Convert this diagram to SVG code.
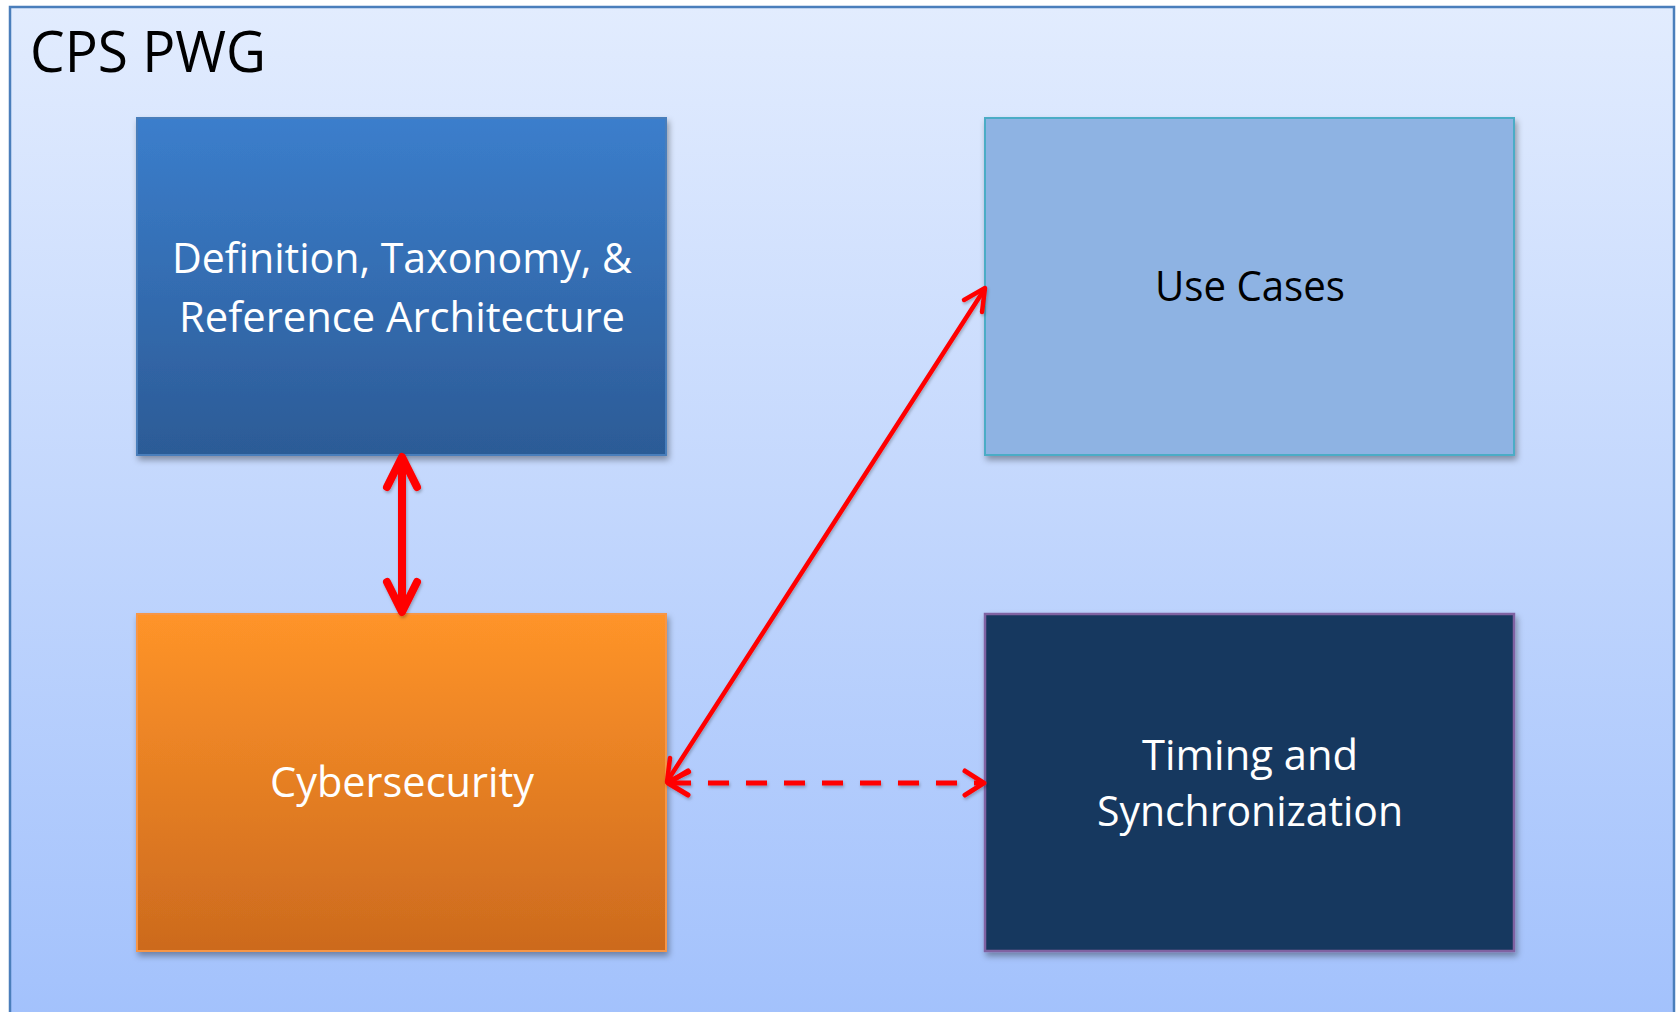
<svg xmlns="http://www.w3.org/2000/svg" width="1679" height="1012" viewBox="0 0 1679 1012">
<defs>
<linearGradient id="bg" x1="0" y1="0" x2="0" y2="1">
<stop offset="0" stop-color="#e2ecfe"/>
<stop offset="1" stop-color="#a2c1fc"/>
</linearGradient>
<linearGradient id="g1" x1="0" y1="0" x2="0" y2="1">
<stop offset="0" stop-color="#3b7ecc"/>
<stop offset="1" stop-color="#2c5b96"/>
</linearGradient>
<linearGradient id="g3" x1="0" y1="0" x2="0" y2="1">
<stop offset="0" stop-color="#ff9429"/>
<stop offset="1" stop-color="#cc6a1e"/>
</linearGradient>
<filter id="sh" x="-5%" y="-5%" width="115%" height="115%">
<feDropShadow dx="2" dy="4" stdDeviation="3" flood-color="#000" flood-opacity="0.35"/>
</filter>
<filter id="ash" x="-20%" y="-20%" width="140%" height="140%">
<feDropShadow dx="1" dy="2" stdDeviation="1.5" flood-color="#000" flood-opacity="0.25"/>
</filter>
</defs>
<style>
.lbl{font-family:"Open Sans","Liberation Sans",sans-serif;font-size:42px;text-anchor:middle}
.w{fill:#ffffff}
.k{fill:#000000}
.arr{fill:none;stroke:#ff0000;stroke-linecap:round;stroke-linejoin:round}
</style>
<rect x="0" y="0" width="1679" height="1012" fill="#ffffff"/>
<g id="frame">
<rect x="10" y="7" width="1664" height="1020" fill="url(#bg)" stroke="#4a7ebb" stroke-width="2.5"/>
<text x="30" y="72" font-family="'Open Sans','Liberation Sans',sans-serif" font-size="57" fill="#000" textLength="236" lengthAdjust="spacingAndGlyphs">CPS PWG</text>
</g>
<g id="node-definition">
<rect x="137" y="118" width="529" height="337" fill="url(#g1)" stroke="#4a7ebb" stroke-width="2" filter="url(#sh)"/>
<text class="lbl w" x="402" y="273" textLength="460" lengthAdjust="spacingAndGlyphs">Definition, Taxonomy, &amp;</text>
<text class="lbl w" x="402" y="332" textLength="446" lengthAdjust="spacingAndGlyphs">Reference Architecture</text>
</g>
<g id="node-usecases">
<rect x="985" y="118" width="529" height="337" fill="#8eb3e3" stroke="#4bacc6" stroke-width="2" filter="url(#sh)"/>
<text class="lbl k" x="1250" y="301" textLength="190" lengthAdjust="spacingAndGlyphs">Use Cases</text>
</g>
<g id="node-cyber">
<rect x="137" y="614" width="529" height="337" fill="url(#g3)" stroke="#f79646" stroke-width="2" filter="url(#sh)"/>
<text class="lbl w" x="402" y="797" textLength="264" lengthAdjust="spacingAndGlyphs">Cybersecurity</text>
</g>
<g id="node-timing">
<rect x="985" y="614" width="529" height="337" fill="#17375e" stroke="#8064a2" stroke-width="2.5" filter="url(#sh)"/>
<text class="lbl w" x="1250" y="770" textLength="216" lengthAdjust="spacingAndGlyphs">Timing and</text>
<text class="lbl w" x="1250" y="826" textLength="306" lengthAdjust="spacingAndGlyphs">Synchronization</text>
</g>
<g id="connectors" filter="url(#ash)">
<g class="arr" stroke-width="8">
<line x1="402" y1="460" x2="402" y2="609"/>
<polyline points="387,487 402,457 417,487"/>
<polyline points="387,582 402,612 417,582"/>
</g>
<g class="arr" stroke-width="4.5">
<line x1="668" y1="780" x2="984" y2="290"/>
<polyline points="964,300 985,288 982,312"/>
<polyline points="670,758 667,782 689,772"/>
</g>
<g class="arr" stroke-width="5">
<line x1="670" y1="783" x2="982" y2="783" stroke-dasharray="21 17" stroke-linecap="butt"/>
<polyline points="688,771 668,783 688,795"/>
<polyline points="965,771 984,783 965,795"/>
</g>
</g>
</svg>
